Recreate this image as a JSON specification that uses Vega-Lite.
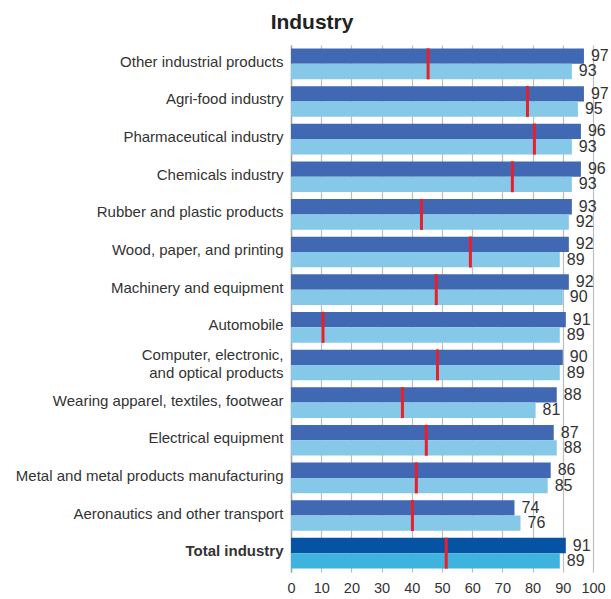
{
  "$schema": "https://vega.github.io/schema/vega-lite/v6.json",
  "width": 302,
  "height": 527,
  "autosize": {"type": "none"},
  "padding": {"left": 291, "top": 45, "right": 18, "bottom": 27},
  "background": "white",
  "title": {
    "text": "Industry",
    "font": "Liberation Sans",
    "fontSize": 21,
    "fontWeight": "bold",
    "color": "#222222",
    "anchor": "middle",
    "frame": "bounds",
    "offset": 12
  },
  "config": {
    "view": {"stroke": null},
    "font": "Liberation Sans",
    "axisX": {
      "title": null,
      "grid": true,
      "gridColor": "#bdbdbd",
      "gridWidth": 1.2,
      "domain": false,
      "ticks": false,
      "labelOverlap": false,
      "labelFlush": false,
      "labelPadding": 9,
      "labelFont": "Liberation Sans",
      "labelFontSize": 14.5,
      "labelColor": "#333333"
    }
  },
  "datasets": {
    "bars": [
      {"sector": "Other industrial products", "series": "first", "level": "sector", "value": 97},
      {"sector": "Other industrial products", "series": "second", "level": "sector", "value": 93},
      {"sector": "Agri-food industry", "series": "first", "level": "sector", "value": 97},
      {"sector": "Agri-food industry", "series": "second", "level": "sector", "value": 95},
      {"sector": "Pharmaceutical industry", "series": "first", "level": "sector", "value": 96},
      {"sector": "Pharmaceutical industry", "series": "second", "level": "sector", "value": 93},
      {"sector": "Chemicals industry", "series": "first", "level": "sector", "value": 96},
      {"sector": "Chemicals industry", "series": "second", "level": "sector", "value": 93},
      {"sector": "Rubber and plastic products", "series": "first", "level": "sector", "value": 93},
      {"sector": "Rubber and plastic products", "series": "second", "level": "sector", "value": 92},
      {"sector": "Wood, paper, and printing", "series": "first", "level": "sector", "value": 92},
      {"sector": "Wood, paper, and printing", "series": "second", "level": "sector", "value": 89},
      {"sector": "Machinery and equipment", "series": "first", "level": "sector", "value": 92},
      {"sector": "Machinery and equipment", "series": "second", "level": "sector", "value": 90},
      {"sector": "Automobile", "series": "first", "level": "sector", "value": 91},
      {"sector": "Automobile", "series": "second", "level": "sector", "value": 89},
      {"sector": "Computer, electronic, and optical products", "series": "first", "level": "sector", "value": 90},
      {"sector": "Computer, electronic, and optical products", "series": "second", "level": "sector", "value": 89},
      {"sector": "Wearing apparel, textiles, footwear", "series": "first", "level": "sector", "value": 88},
      {"sector": "Wearing apparel, textiles, footwear", "series": "second", "level": "sector", "value": 81},
      {"sector": "Electrical equipment", "series": "first", "level": "sector", "value": 87},
      {"sector": "Electrical equipment", "series": "second", "level": "sector", "value": 88},
      {"sector": "Metal and metal products manufacturing", "series": "first", "level": "sector", "value": 86},
      {"sector": "Metal and metal products manufacturing", "series": "second", "level": "sector", "value": 85},
      {"sector": "Aeronautics and other transport", "series": "first", "level": "sector", "value": 74},
      {"sector": "Aeronautics and other transport", "series": "second", "level": "sector", "value": 76},
      {"sector": "Total industry", "series": "first", "level": "total", "value": 91},
      {"sector": "Total industry", "series": "second", "level": "total", "value": 89}
    ],
    "markers": [
      {"sector": "Other industrial products", "marker": 45.4},
      {"sector": "Agri-food industry", "marker": 78.3},
      {"sector": "Pharmaceutical industry", "marker": 80.6},
      {"sector": "Chemicals industry", "marker": 73.3},
      {"sector": "Rubber and plastic products", "marker": 43.2},
      {"sector": "Wood, paper, and printing", "marker": 59.4},
      {"sector": "Machinery and equipment", "marker": 48.1},
      {"sector": "Automobile", "marker": 10.6},
      {"sector": "Computer, electronic, and optical products", "marker": 48.5},
      {"sector": "Wearing apparel, textiles, footwear", "marker": 36.9},
      {"sector": "Electrical equipment", "marker": 44.8},
      {"sector": "Metal and metal products manufacturing", "marker": 41.5},
      {"sector": "Aeronautics and other transport", "marker": 40.2},
      {"sector": "Total industry", "marker": 51.4}
    ]
  },
  "encoding": {
    "y": {
      "field": "sector",
      "type": "nominal",
      "sort": null,
      "scale": {"paddingInner": 0.186, "paddingOuter": 0.093},
      "axis": {
        "title": null,
        "domain": true,
        "domainColor": "#a6a6a6",
        "domainWidth": 1.5,
        "ticks": false,
        "labelPadding": 8,
        "labelFont": "Liberation Sans",
        "labelFontSize": 15,
        "labelColor": "#333333",
        "labelLimit": 300,
        "labelLineHeight": 18,
        "labelOffset": {"condition": {"test": "datum.value == 'Computer, electronic, and optical products'", "value": -10}, "value": -2},
        "labelFontWeight": {"condition": {"test": "datum.value == 'Total industry'", "value": "bold"}, "value": "normal"},
        "labelExpr": "datum.label == 'Computer, electronic, and optical products' ? ['Computer, electronic,', 'and optical products'] : datum.label"
      }
    }
  },
  "layer": [
    {
      "data": {"name": "bars"},
      "mark": {"type": "bar"},
      "encoding": {
        "x": {
          "field": "value",
          "type": "quantitative",
          "scale": {"domain": [0, 100], "nice": false},
          "axis": {"values": [0, 10, 20, 30, 40, 50, 60, 70, 80, 90, 100]}
        },
        "yOffset": {"field": "series", "type": "nominal", "sort": ["first", "second"], "scale": {"paddingInner": 0, "paddingOuter": 0}},
        "color": {
          "condition": [
            {"test": "datum.level == 'total' && datum.series == 'first'", "value": "#0753A3"},
            {"test": "datum.level == 'total'", "value": "#3DB3DE"},
            {"test": "datum.series == 'first'", "value": "#4168B2"}
          ],
          "value": "#86C8E8"
        }
      }
    },
    {
      "data": {"name": "bars"},
      "mark": {"type": "text", "align": "left", "baseline": "middle", "dx": 7, "fontSize": 16, "color": "#333333", "font": "Liberation Sans"},
      "encoding": {
        "x": {"field": "value", "type": "quantitative", "axis": {"values": [0, 10, 20, 30, 40, 50, 60, 70, 80, 90, 100]}},
        "yOffset": {"field": "series", "type": "nominal", "sort": ["first", "second"]},
        "text": {"field": "value", "type": "quantitative", "format": "d"}
      }
    },
    {
      "data": {"name": "markers"},
      "mark": {"type": "tick", "orient": "vertical", "size": 31, "thickness": 3, "color": "#E8202A", "opacity": 1},
      "encoding": {
        "x": {"field": "marker", "type": "quantitative", "axis": {"values": [0, 10, 20, 30, 40, 50, 60, 70, 80, 90, 100]}}
      }
    }
  ]
}
